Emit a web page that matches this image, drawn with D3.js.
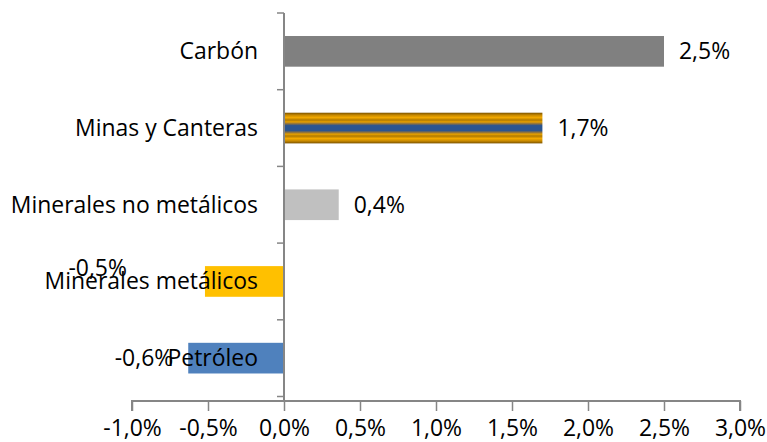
<!DOCTYPE html>
<html>
<head>
<meta charset="utf-8">
<script src="https://cdn.jsdelivr.net/npm/d3@7"></script>
<style>
body { margin: 0; background: #fff; }
text { font-family: "Open Sans", "Noto Sans", sans-serif; fill: #000; }
</style>
</head>
<body>
<div class="svg"></div>
<script>
var categories = ["Carbón", "Minas y Canteras", "Minerales no metálicos", "Minerales metálicos", "Petróleo"];
var values = [2.5, 1.7, 0.36, -0.52, -0.63];
var valueLabels = ["2,5%", "1,7%", "0,4%", "-0,5%", "-0,6%"];
var fills = ["#808080", "url(#minas)", "#c0c0c0", "#ffc000", "#4f81bd"];
var tickValues = [-1, -0.5, 0, 0.5, 1, 1.5, 2, 2.5, 3];

var width = 767, height = 442;

var svg = d3.select("div.svg").append("svg")
	.attr("width", width)
	.attr("height", height)

// size the font so "Minas y Canteras" is as wide as in the original (~183px)
var probe = svg.append("text").style("font-size", "20px").text(categories[1])
var fontPx = 20 * 183 / probe.node().getComputedTextLength()
probe.remove()
var fontSize = fontPx.toFixed(2) + "px"

// striped fill of the Minas y Canteras bar
var grad = svg.append("defs").append("linearGradient")
	.attr("id", "minas")
	.attr("x1", 0).attr("y1", 0).attr("x2", 0).attr("y2", 1)
var stops = [[0, "#7a5200"], [0.08, "#c88a00"], [0.16, "#f2a900"], [0.24, "#b07a00"], [0.3, "#e8a200"],
	[0.36, "#8a7040"], [0.42, "#2a5590"], [0.58, "#2a5590"], [0.64, "#8a7040"], [0.7, "#e8a200"],
	[0.76, "#b07a00"], [0.84, "#f2a900"], [0.92, "#c88a00"], [1, "#7a5200"]]
stops.forEach(function(s){
	grad.append("stop").attr("offset", s[0]).attr("stop-color", s[1])
})

var x = d3.scaleLinear()
	.domain([-1, 3])
	.range([132, 740])

var y = d3.scaleBand()
	.domain(categories)
	.range([13, 396.5])
	.paddingInner(0.6)
	.paddingOuter(0.3)

var axisColor = "#868686"
var axisY = 401

// bars
svg.selectAll("rect.bar")
	.data(values)
	.enter().append("rect")
	.attr("class", "bar")
	.attr("x", d => x(Math.min(0, d)))
	.attr("width", d => Math.abs(x(d) - x(0)))
	.attr("y", (d, i) => y(categories[i]))
	.attr("height", y.bandwidth())
	.attr("fill", (d, i) => fills[i])

// vertical axis with ticks between categories
var step = y.step()
var axisTop = y(categories[0]) - step * 0.3
svg.append("line")
	.attr("x1", x(0)).attr("x2", x(0))
	.attr("y1", axisTop).attr("y2", axisY)
	.attr("stroke", axisColor).attr("stroke-width", 2)
d3.range(categories.length + 1).forEach(function(i){
	var ty = axisTop + i * step
	if (ty > axisY - 2) return
	svg.append("line")
		.attr("x1", x(0) - 7).attr("x2", x(0))
		.attr("y1", ty).attr("y2", ty)
		.attr("stroke", axisColor).attr("stroke-width", 1.5)
})

// horizontal axis
var xAxis = d3.axisBottom(x)
	.tickValues(tickValues)
	.tickSize(10)
	.tickFormat(d => d3.format(".1f")(d).replace(".", ",").replace("−", "-") + "%")
var gx = svg.append("g")
	.attr("transform", `translate(0,${axisY})`)
	.call(xAxis)
gx.select(".domain").attr("stroke", axisColor).attr("stroke-width", 2).attr("d", `M${x(-1)},10V0H${x(3)}V10`)
gx.selectAll(".tick line").attr("stroke", axisColor).attr("stroke-width", 1.5)
gx.selectAll(".tick text")
	.attr("y", 19)
	.attr("dy", "0.71em")
	.style("font-family", "'Open Sans', 'Noto Sans', sans-serif")
	.style("font-size", fontSize)
	.attr("fill", "#000")

// category labels
svg.selectAll("text.cat")
	.data(categories)
	.enter().append("text")
	.attr("class", "cat")
	.attr("x", 258)
	.attr("y", d => y(d) + y.bandwidth() / 2)
	.attr("dy", "0.35em")
	.attr("text-anchor", "end")
	.style("font-size", fontSize)
	.text(d => d)

// value labels (the -0,5% one sits raised and shifted, as in the original)
svg.selectAll("text.val")
	.data(values)
	.enter().append("text")
	.attr("class", "val")
	.attr("x", d => d >= 0 ? x(d) + 15 : x(d) - 15)
	.attr("y", (d, i) => y(categories[i]) + y.bandwidth() / 2 - (i === 3 ? 13 : 0))
	.attr("dy", "0.35em")
	.attr("text-anchor", d => d >= 0 ? "start" : "end")
	.attr("dx", (d, i) => i === 3 ? -63 : 0)
	.style("font-size", fontSize)
	.text((d, i) => valueLabels[i])
</script>
</body>
</html>
